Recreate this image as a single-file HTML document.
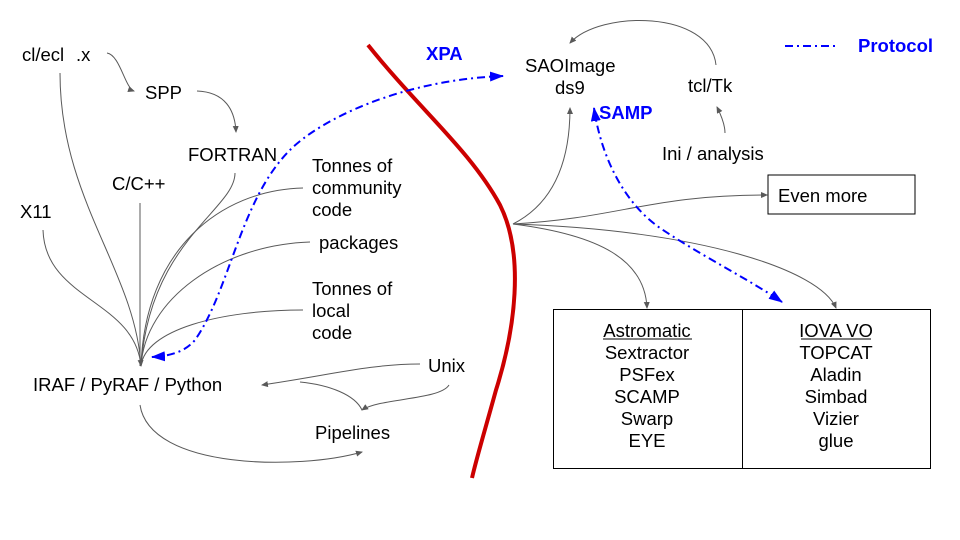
<!DOCTYPE html>
<html><head><meta charset="utf-8"><style>
html,body{margin:0;padding:0;background:#fff;}
svg{display:block;font-family:"Liberation Sans",Arial,sans-serif;}
</style></head><body>
<svg width="960" height="540" viewBox="0 0 960 540" xmlns="http://www.w3.org/2000/svg">
<defs>
<marker id="g" markerWidth="8" markerHeight="8" refX="6" refY="3" orient="auto" markerUnits="userSpaceOnUse"><path d="M0,0 L7,3 L0,6 z" fill="#595959"/></marker>
<marker id="b" markerWidth="16" markerHeight="12" refX="13" refY="5" orient="auto-start-reverse" markerUnits="userSpaceOnUse"><path d="M0,0 L14,5 L0,10 z" fill="#00f"/></marker>
</defs>
<!-- red divider -->
<path d="M368,45 C420,110 470,150 500,205 C525,255 515,330 496,390 C485,430 476,460 472,478" fill="none" stroke="#c00" stroke-width="4"/>

<g fill="none" stroke="#595959" stroke-width="1">
<path d="M60,73 C60,200 135,270 141,366" marker-end="url(#g)"/>
<path d="M43,230 C45,300 135,300 141,366"/>
<path d="M140,203 L140,366"/>
<path d="M235,173 C235,210 150,240 141,366"/>
<path d="M303,188 C220,190 145,250 141,366"/>
<path d="M310,242 C220,245 145,300 141,366"/>
<path d="M303,310 C220,310 145,330 141,366"/>
<path d="M107,53 C120,55 125,88 134,91" marker-end="url(#g)"/>
<path d="M197,91 C225,92 235,110 236,132" marker-end="url(#g)"/>
<path d="M420,364 C370,364 330,375 262,385" marker-end="url(#g)"/>
<path d="M300,382 C330,385 355,395 362,410"/>
<path d="M449,385 C440,400 380,398 362,410" marker-end="url(#g)"/>
<path d="M140,405 C150,470 300,470 362,452" marker-end="url(#g)"/>
<path d="M513,224 C560,200 570,150 570,108" marker-end="url(#g)"/>
<path d="M513,224 C620,218 650,195 767,195" marker-end="url(#g)"/>
<path d="M513,224 C600,235 645,260 647,308" marker-end="url(#g)"/>
<path d="M513,224 C700,230 820,270 836,308" marker-end="url(#g)"/>
<path d="M716,65 C710,10 600,10 570,43" marker-end="url(#g)"/>
<path d="M725,133 C725,125 721,115 717,107" marker-end="url(#g)"/>
</g>

<g fill="none" stroke="#00f" stroke-width="2" stroke-dasharray="8,4,2,4">
<path d="M503,76 C400,80 320,120 290,150 C240,200 230,290 195,340 C185,352 170,356 152,357" marker-end="url(#b)" marker-start="url(#b)"/>
<path d="M594,108 C600,150 620,200 660,228 C700,255 750,280 782,302" marker-end="url(#b)" marker-start="url(#b)"/>
<path d="M785,46 L838,46"/>
</g>

<g font-size="18.5" fill="#000">
<text x="22" y="61">cl/ecl</text>
<text x="76" y="61">.x</text>
<text x="145" y="99">SPP</text>
<text x="188" y="161">FORTRAN</text>
<text x="112" y="190">C/C++</text>
<text x="20" y="218">X11</text>
<text x="312" y="172">Tonnes of</text>
<text x="312" y="194">community</text>
<text x="312" y="216">code</text>
<text x="319" y="249">packages</text>
<text x="312" y="295">Tonnes of</text>
<text x="312" y="317">local</text>
<text x="312" y="339">code</text>
<text x="33" y="391">IRAF / PyRAF / Python</text>
<text x="428" y="372">Unix</text>
<text x="315" y="439">Pipelines</text>
<text x="525" y="72">SAOImage</text>
<text x="555" y="94">ds9</text>
<text x="688" y="92">tcl/Tk</text>
<text x="662" y="160">Ini / analysis</text>
<text x="778" y="202">Even more</text>
</g>
<g font-size="18.5" font-weight="bold" fill="#00f">
<text x="426" y="60">XPA</text>
<text x="599" y="119">SAMP</text>
<text x="858" y="52">Protocol</text>
</g>

<rect x="768" y="175" width="147" height="39" fill="none" stroke="#000" stroke-width="1"/>
<rect x="553.5" y="309.5" width="189" height="159" fill="none" stroke="#000" stroke-width="1"/>
<rect x="742.5" y="309.5" width="188" height="159" fill="none" stroke="#000" stroke-width="1"/>
<g font-size="18.5" fill="#000" text-anchor="middle">
<text x="647" y="337">Astromatic</text>
<text x="647" y="359">Sextractor</text>
<text x="647" y="381">PSFex</text>
<text x="647" y="403">SCAMP</text>
<text x="647" y="425">Swarp</text>
<text x="647" y="447">EYE</text>
<text x="836" y="337">IOVA VO</text>
<text x="836" y="359">TOPCAT</text>
<text x="836" y="381">Aladin</text>
<text x="836" y="403">Simbad</text>
<text x="836" y="425">Vizier</text>
<text x="836" y="447">glue</text>
</g>
<line x1="603" y1="339" x2="692" y2="339" stroke="#000"/>
<line x1="801" y1="339" x2="871" y2="339" stroke="#000"/>
</svg>
</body></html>
